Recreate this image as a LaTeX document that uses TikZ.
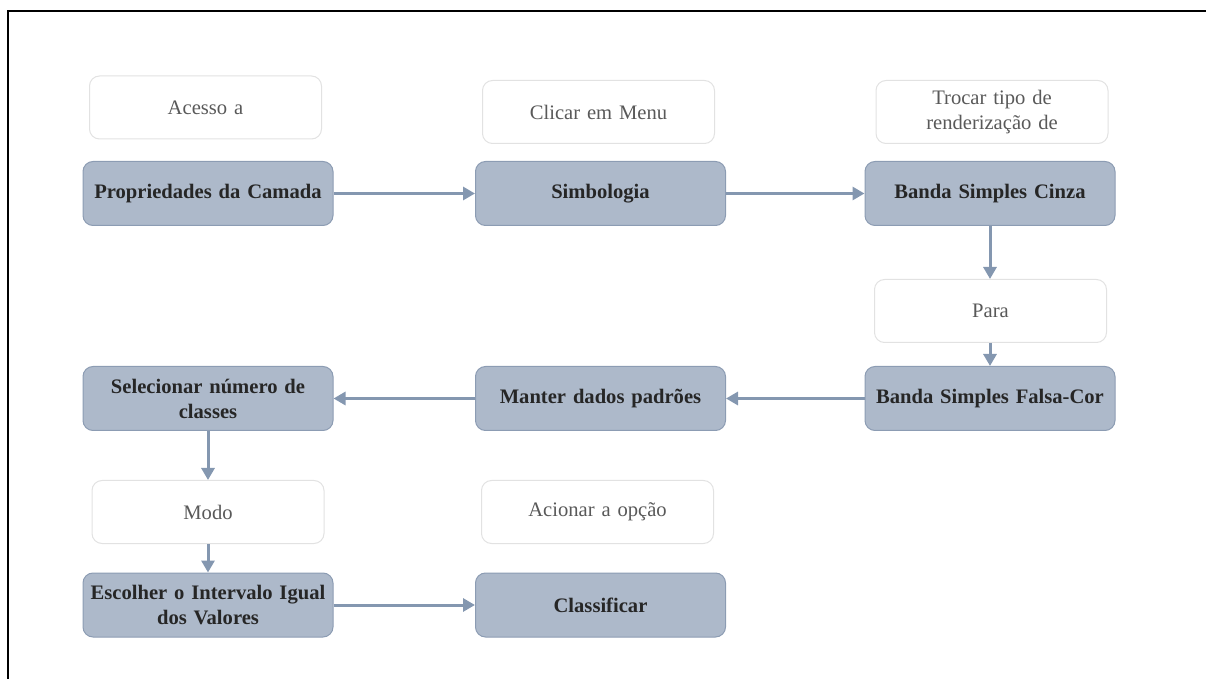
\documentclass[tikz,border=0pt]{standalone}
\usepackage{fontspec}
\setmainfont{Liberation Serif}
\usetikzlibrary{arrows.meta}
\definecolor{bfill}{HTML}{ADB9CA}
\definecolor{bdraw}{HTML}{8C9CB3}
\definecolor{arr}{HTML}{8497B0}
\definecolor{wdraw}{HTML}{E2E2E2}
\definecolor{wtext}{HTML}{595959}
\definecolor{btext}{HTML}{262626}
\tikzset{
  bluebox/.style={draw=bdraw, line width=0.5pt, fill=bfill, rounded corners=5pt,
    minimum width=125pt, minimum height=32pt, align=center, text width=118pt,
    font=\fontsize{10.3}{12.5}\selectfont\bfseries, text=btext, inner sep=0pt},
  whitebox/.style={draw=wdraw, line width=0.5pt, fill=white, rounded corners=5pt,
    minimum width=116pt, minimum height=31.5pt, align=center, text width=110pt,
    font=\fontsize{10.3}{12.5}\selectfont, text=wtext, inner sep=0pt},
  flow/.style={draw=arr, line width=1.5pt, -{Triangle[length=6pt,width=6.5pt]}}
}
\begin{document}
\begin{tikzpicture}[x=0.5pt,y=-0.5pt]
\useasboundingbox (0,0) rectangle (1206,679);
\coordinate (fbl) at (8,679);
\coordinate (ftl) at (8,11);
\coordinate (ftr) at (1206,11);
\draw[line width=0.75pt] (fbl) -- (ftl) -- (ftr);

\node[whitebox] (acesso) at (205.5,107.5) {Acesso a};
\node[whitebox] (clicar) at (598.5,112) {Clicar em Menu};
\node[whitebox] (trocar) at (992,112) {Trocar tipo de\\renderização de};
\node[whitebox] (para) at (990.5,311) {Para};
\node[whitebox] (modo) at (208,512) {Modo};
\node[whitebox] (acionar) at (597.5,512) {Acionar a opção};

\node[bluebox] (prop) at (208,193.5) {Propriedades da Camada};
\node[bluebox] (simb) at (600.5,193.5) {Simbologia};
\node[bluebox] (cinza) at (990,193.5) {Banda Simples Cinza};
\node[bluebox] (falsa) at (990,398.5) {Banda Simples Falsa-Cor};
\node[bluebox] (manter) at (600.5,398.5) {Manter dados padrões};
\node[bluebox] (selec) at (208,398.5) {Selecionar número de\\classes};
\node[bluebox] (escolher) at (208,605) {Escolher o Intervalo Igual\\dos Valores};
\node[bluebox] (classif) at (600.5,605) {Classificar};

\draw[flow] (prop.east) -- (simb.west);
\draw[flow] (simb.east) -- (cinza.west);
\draw[flow] (cinza.south) -- (para.north -| cinza.south);
\draw[flow] (para.south -| falsa.north) -- (falsa.north);
\draw[flow] (falsa.west) -- (manter.east);
\draw[flow] (manter.west) -- (selec.east);
\draw[flow] (selec.south) -- (modo.north);
\draw[flow] (modo.south) -- (escolher.north);
\draw[flow] (escolher.east) -- (classif.west);
\end{tikzpicture}
\end{document}
